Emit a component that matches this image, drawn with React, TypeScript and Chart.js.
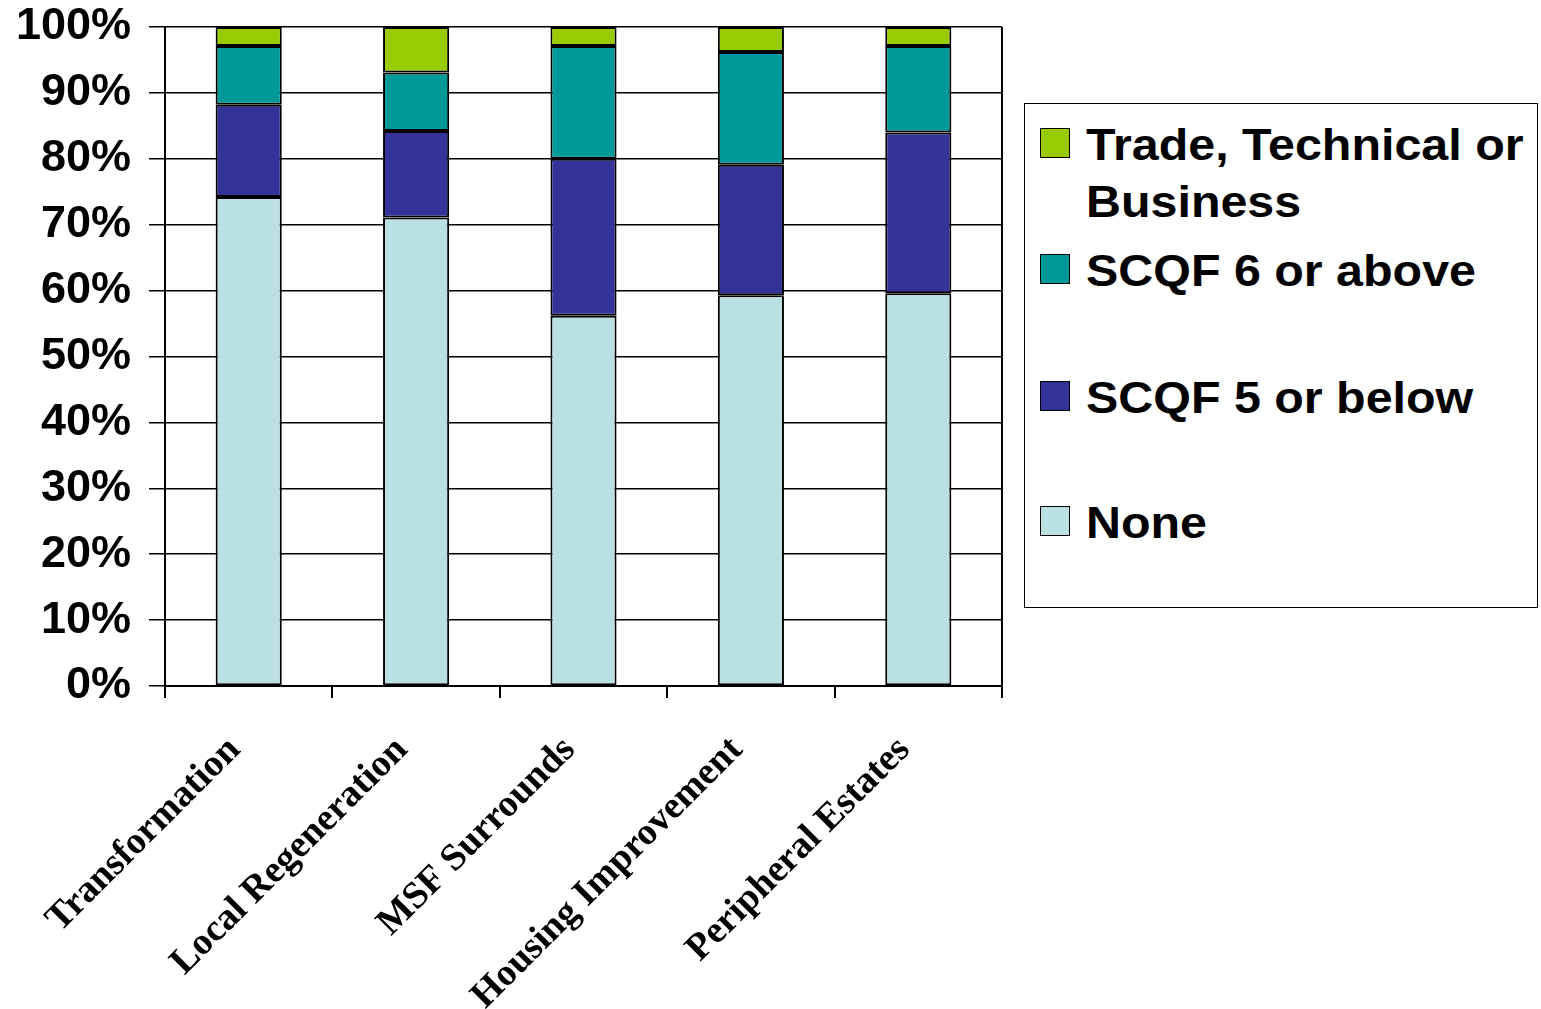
import React, { useEffect, useRef } from "react";
import { Chart, registerables } from "chart.js";

Chart.register(...registerables);

const categories = [
  "Transformation",
  "Local Regeneration",
  "MSF Surrounds",
  "Housing Improvement",
  "Peripheral Estates",
];
const noneValues = [74.2, 71.1, 56.2, 59.3, 59.6];
const scqf5Values = [14.0, 13.1, 23.8, 19.8, 24.4];
const scqf6Values = [8.9, 8.9, 17.1, 17.1, 13.1];
const tradeValues = [2.9, 6.9, 2.9, 3.8, 2.9];
const yTicks = [0, 10, 20, 30, 40, 50, 60, 70, 80, 90, 100];

const seriesNames = ["None", "SCQF 5 or below", "SCQF 6 or above", "Trade, Technical or Business"];
const seriesColors = ["#BBE0E3", "#333399", "#009999", "#99CC00"];

const legendEntries = [
  { name: "Trade, Technical or", name2: "Business", color: seriesColors[3], top: 126 },
  { name: "SCQF 6 or above", color: seriesColors[2], top: 252 },
  { name: "SCQF 5 or below", color: seriesColors[1], top: 379 },
  { name: "None", color: seriesColors[0], top: 504 },
];

const borderPlugin = {
  id: "rightBorder",
  afterDraw(chart: any) {
    const { ctx, chartArea } = chart;
    ctx.save();
    ctx.strokeStyle = "#000";
    ctx.lineWidth = 2;
    ctx.beginPath();
    ctx.moveTo(chartArea.right, chartArea.top);
    ctx.lineTo(chartArea.right, chartArea.bottom + 12);
    ctx.stroke();
    ctx.restore();
  },
};

export default function App() {
  const canvasRef = useRef<HTMLCanvasElement | null>(null);

  useEffect(() => {
    document.body.style.margin = "0";
    const canvas = canvasRef.current;
    if (!canvas) return;
    const data = [noneValues, scqf5Values, scqf6Values, tradeValues];
    const chart = new Chart(canvas, {
      type: "bar",
      data: {
        labels: categories,
        datasets: data.map((vals, i) => ({
          label: seriesNames[i],
          data: vals,
          backgroundColor: seriesColors[i],
          borderColor: "#000",
          borderWidth: 2,
          borderSkipped: false,
          barPercentage: 0.395,
          categoryPercentage: 1,
        })),
      },
      options: {
        responsive: false,
        animation: false,
        layout: { padding: { top: 27, right: 8, left: 0, bottom: 0 } },
        plugins: {
          legend: { display: false },
          tooltip: { enabled: false },
        },
        scales: {
          x: {
            stacked: true,
            afterFit: (scale: any) => {
              scale.height = 323;
            },
            grid: {
              offset: true,
              drawOnChartArea: false,
              drawTicks: true,
              tickLength: 12,
              color: "#000",
              lineWidth: 2,
            },
            border: { display: true, color: "#000", width: 2 },
            ticks: {
              maxRotation: 45,
              minRotation: 45,
              color: "#000",
              padding: 30,
              labelOffset: -14,
              font: { family: "'Liberation Serif', 'Times New Roman', serif", size: 38, weight: "bold" },
            },
          },
          y: {
            stacked: true,
            min: 0,
            max: 100,
            afterFit: (scale: any) => {
              scale.width = 165;
              scale.paddingTop = 0;
              scale.paddingBottom = 0;
            },
            afterBuildTicks: (scale: any) => {
              scale.ticks = yTicks.map((v) => ({ value: v }));
            },
            grid: {
              color: "#000",
              lineWidth: 1.5,
              drawTicks: true,
              tickLength: 16,
            },
            border: { display: true, color: "#000", width: 2 },
            ticks: {
              color: "#000",
              padding: 18,
              callback: (v: any) => v + "%",
              font: { family: "'Liberation Sans', Arial, sans-serif", size: 45, weight: "bold" },
            },
          },
        },
      },
      plugins: [borderPlugin],
    });
    return () => chart.destroy();
  }, []);

  return (
    <div style={{ position: "fixed", left: 0, top: 0, width: 1541, height: 1009, background: "#fff" }}>
      <canvas ref={canvasRef} width={1010} height={1009} style={{ position: "absolute", left: 0, top: 0 }} />
      <div
        style={{
          position: "absolute",
          left: 1024,
          top: 103,
          width: 512,
          height: 503,
          border: "1.5px solid #000",
          boxSizing: "content-box",
        }}
      />
      {legendEntries.map((e, i) => (
        <div key={i}>
          <div
            style={{
              position: "absolute",
              left: 1040,
              top: e.top + 2,
              width: 28,
              height: 28,
              background: e.color,
              border: "1.5px solid #000",
            }}
          />
          <div
            style={{
              position: "absolute",
              left: 1086,
              top: e.top - 10,
              fontFamily: "'Liberation Sans', Arial, sans-serif",
              fontWeight: "bold",
              fontSize: 44,
              lineHeight: "57px",
              color: "#000",
              whiteSpace: "nowrap",
              transform: "scaleX(1.1)",
              transformOrigin: "left top",
            }}
          >
            <div>{e.name}</div>
            {e.name2 ? <div>{e.name2}</div> : null}
          </div>
        </div>
      ))}
    </div>
  );
}
